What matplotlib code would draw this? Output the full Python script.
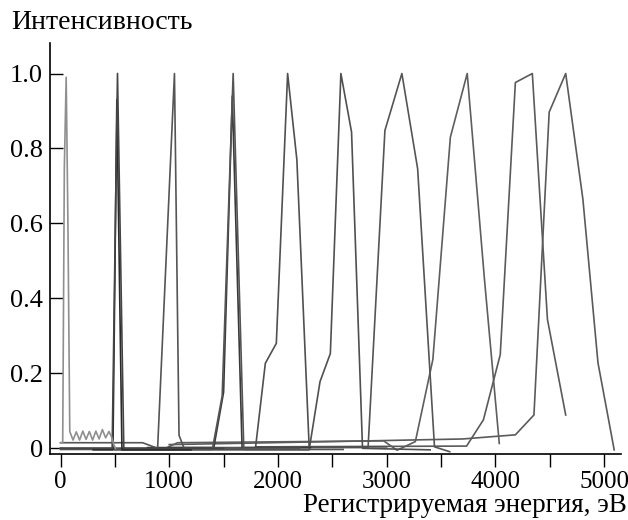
import numpy as np
import matplotlib.pyplot as plt
from matplotlib.ticker import MultipleLocator

plt.rcParams['font.family'] = ['Liberation Serif', 'DejaVu Serif']

# energy (eV) / intensity pairs, one list per detector channel
e_a = [0, 20, 35, 52, 68, 85, 115, 145, 175, 205, 235, 265, 295, 325, 355, 385, 415, 445, 470, 490, 505]
i_a = [0.015, 0.015, 0.75, 0.99, 0.6, 0.045, 0.022, 0.044, 0.022, 0.046, 0.024, 0.045, 0.022, 0.046, 0.025, 0.05, 0.028, 0.045, 0.03, 0.01, 0.0]

e_b = [0, 475, 524, 582, 1500]
i_b = [0.0, 0.0, 1.0, 0.0, 0.0]

e_b2 = [300, 482, 518, 565, 1200]
i_b2 = [-0.004, -0.004, 0.93, -0.004, -0.004]

e_c = [0, 755, 893, 1048, 1090, 1137, 2200]
i_c = [0.015, 0.015, 0.0, 1.0, 0.035, 0.0, 0.0]

e_d = [0, 1396, 1487, 1588, 1686, 2600]
i_d = [-0.003, -0.003, 0.14, 1.0, -0.003, -0.003]

e_d2 = [800, 1410, 1500, 1580, 1670, 2300]
i_d2 = [0.002, 0.002, 0.15, 0.94, 0.002, 0.002]

e_e = [0, 1793, 1884, 1985, 2089, 2174, 2287, 3000]
i_e = [0.0, 0.0, 0.227, 0.28, 1.0, 0.77, 0.004, 0.004]

e_f = [500, 2287, 2387, 2482, 2579, 2677, 2778, 3400]
i_f = [-0.004, -0.004, 0.178, 0.253, 1.0, 0.844, 0.0, -0.004]

e_g = [1000, 2829, 2984, 3140, 3285, 3440, 3580]
i_g = [0.002, 0.002, 0.848, 1.0, 0.746, 0.004, -0.009]

e_h = [0, 966, 1076, 2972, 3096, 3264, 3425, 3586, 3741, 3900, 4036]
i_h = [0.0, 0.0, 0.015, 0.02, -0.005, 0.018, 0.237, 0.83, 1.0, 0.45, 0.013]

e_i = [1800, 3735, 3890, 4045, 4184, 4340, 4479, 4647]
i_i = [0.004, 0.006, 0.076, 0.25, 0.976, 1.0, 0.344, 0.089]

e_j = [1000, 2500, 3700, 4184, 4355, 4495, 4647, 4805, 4944, 5093]
i_j = [0.01, 0.018, 0.025, 0.036, 0.089, 0.897, 1.0, 0.665, 0.228, -0.004]

channels = [
    (e_j, i_j, '#5a5a5a'),
    (e_i, i_i, '#5a5a5a'),
    (e_h, i_h, '#5e5e5e'),
    (e_g, i_g, '#555555'),
    (e_f, i_f, '#505050'),
    (e_e, i_e, '#505050'),
    (e_d2, i_d2, '#3a3a3a'),
    (e_d, i_d, '#555555'),
    (e_c, i_c, '#555555'),
    (e_b2, i_b2, '#2a2a2a'),
    (e_b, i_b, '#454545'),
    (e_a, i_a, '#8f8f8f'),
]

fig = plt.figure(figsize=(6.28, 5.2), dpi=100)
ax = fig.add_axes([0.0796, 0.127, 0.910, 0.790])

for e, i, c in channels:
    ax.plot(e, i, color=c, lw=1.2)

ax.set_xlim(-97, 5160)
ax.set_ylim(-0.015, 1.081)

ax.spines['top'].set_visible(False)
ax.spines['right'].set_visible(False)
ax.spines['left'].set_linewidth(1.2)
ax.spines['bottom'].set_linewidth(1.2)

ax.xaxis.set_major_locator(MultipleLocator(1000))
ax.xaxis.set_minor_locator(MultipleLocator(500))
ax.set_yticks([0, 0.2, 0.4, 0.6, 0.8, 1.0])
ax.set_yticklabels(['0', '0.2', '0.4', '0.6', '0.8', '1.0'])
ax.tick_params(axis='x', which='both', direction='out', length=9, width=1, labelsize=18, pad=3)
ax.tick_params(axis='y', direction='in', length=9, width=1, labelsize=19, pad=5)

fig.text(0.018, 0.956, 'Интенсивность', fontsize=20, va='center', ha='left')
fig.text(0.998, 0.004, 'Регистрируемая энергия, эВ', fontsize=19.5, va='bottom', ha='right')

fig.savefig('out.png', dpi=100)
